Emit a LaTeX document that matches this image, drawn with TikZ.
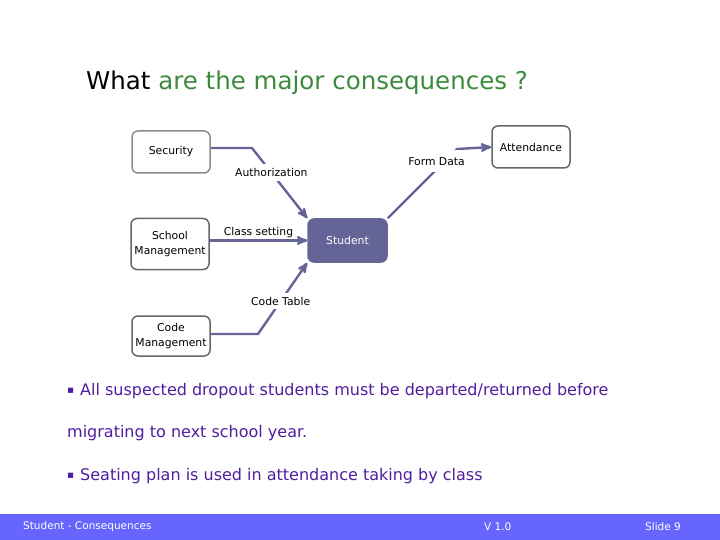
\documentclass[tikz,border=0pt]{standalone}
\usepackage{fontspec}
\setmainfont{DejaVu Sans}
\usetikzlibrary{arrows,positioning,calc}
\definecolor{slateblue}{RGB}{100,100,150}
\definecolor{barblue}{RGB}{102,102,255}
\definecolor{titlegreen}{RGB}{60,138,60}
\definecolor{bulletpurple}{RGB}{80,30,160}
\newcommand{\sqbullet}{\makebox[13pt][l]{\raisebox{2pt}{\fontsize{10.5}{10}\selectfont ▪}}}
\tikzset{
    block/.style={
        draw=black!60,
        line width=1.5pt,
        rectangle,
        rounded corners=6pt,
        minimum height=42pt,
        minimum width=78pt,
        inner sep=2pt,
        font=\fontsize{10.8}{15}\selectfont
    },
    hub/.style={
        block,
        draw=slateblue,
        fill=slateblue,
        text=white,
        minimum width=79pt,
        minimum height=43pt
    },
    flow/.style={
        ->,
        >=stealth',
        draw=slateblue,
        line width=2.4pt
    },
    flowlabel/.style={
        fill=white,
        inner xsep=2pt,
        inner ysep=4pt,
        font=\fontsize{10.8}{12}\selectfont
    },
    bullet/.style={
        anchor=base west,
        inner sep=0pt,
        text=bulletpurple,
        font=\fontsize{16}{19}\selectfont
    },
    footer/.style={
        anchor=west,
        inner sep=0pt,
        text=white,
        font=\fontsize{10.5}{12}\selectfont
    },
}
\begin{document}
\begin{tikzpicture}[x=1pt, y=-1pt, align=center]
    \useasboundingbox (0,0) rectangle (720,540);

    % title
    \node[anchor=base west, inner sep=0pt, font=\fontsize{24.5}{29}\selectfont] (title) at (86,90) {What \textcolor{titlegreen}{are the major consequences ?}};

    % blocks
    \node[block, draw=black!45] (sec) at (171,152) {Security};
    \node[block, minimum height=51pt] (schl) at (170,244) {School\\Management};
    \node[block, minimum height=40pt] (codem) at (171,336) {Code\\Management};
    \node[hub] (stud) at (347.5,240.5) {Student};
    \node[block] (att) at (531,147) {Attendance};

    % bends
    \coordinate (secbend) at (252,148);
    \coordinate (codebend) at (258,334);
    \coordinate (attbend) at (457,149);

    % lines
    \draw[flow] ([yshift=4pt]sec.east) -- (secbend) -- (stud.north west) node[flowlabel, pos=0.35] {Authorization};
    \draw[flow] (schl.east |- stud.west) -- (stud.west) node[flowlabel, midway, above, inner ysep=2pt, fill=none] {Class setting};
    \draw[flow] ([yshift=2pt]codem.east) -- (codebend) -- (stud.south west) node[flowlabel, pos=0.46] {Code Table};
    \draw[flow] (stud.north east) -- (attbend) node[flowlabel, pos=0.82, xshift=-8pt, inner ysep=7pt] {Form Data} -- (att.west);

    % bullets
    \node[bullet] (pt1) at (67,395) {\sqbullet All suspected dropout students must be departed/returned before};
    \node[bullet] (pt1b) at (67,437) {migrating to next school year.};
    \node[bullet] (pt2) at (67,480) {\sqbullet Seating plan is used in attendance taking by class};

    % footer
    \fill[barblue] (0,514) rectangle (720,540);
    \node[footer] (foottitle) at (23,527) {Student - Consequences};
    \node[footer] (version) at (484,527) {V 1.0};
    \node[footer] (slideno) at (645,527) {Slide 9};
\end{tikzpicture}
\end{document}
